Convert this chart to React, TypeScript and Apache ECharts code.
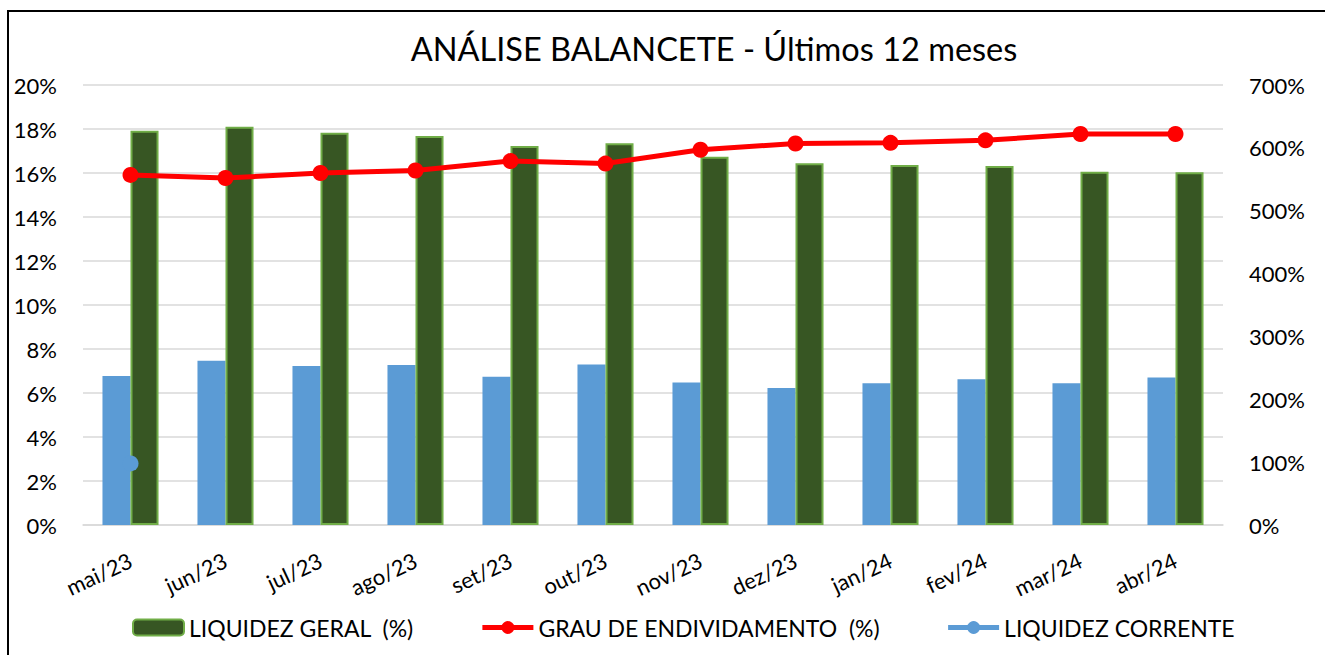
import React, { useEffect, useRef } from "react";
import * as echarts from "echarts";

const categories = ["mai/23", "jun/23", "jul/23", "ago/23", "set/23", "out/23", "nov/23", "dez/23", "jan/24", "fev/24", "mar/24", "abr/24"];
// left axis (%)
const liquidezBarras = [6.77, 7.47, 7.23, 7.27, 6.74, 7.30, 6.48, 6.23, 6.44, 6.62, 6.44, 6.70];
const liquidezGeral = [17.92, 18.1, 17.83, 17.68, 17.23, 17.35, 16.74, 16.44, 16.36, 16.32, 16.06, 16.03];
// right axis (%)
const grauEndividamento = [557, 552, 560, 564, 579, 575, 597, 607, 608, 612, 622, 622];
const liquidezCorrente = [98, null, null, null, null, null, null, null, null, null, null, null];

const FONT = "Lato";

export default function App() {
  const ref = useRef<HTMLDivElement>(null);
  useEffect(() => {
    if (!ref.current) return;
    const chart = echarts.init(ref.current, undefined, { renderer: "svg" });
    chart.setOption({
      animation: false,
      backgroundColor: "#ffffff",
      textStyle: { fontFamily: FONT },
      title: {
        text: "ANÁLISE BALANCETE - Últimos 12 meses",
        left: 709,
        top: 27,
        textAlign: "center",
        textStyle: { fontFamily: FONT, fontSize: 32.5, fontWeight: "normal", color: "#000" },
      },
      graphic: [
        {
          type: "rect",
          shape: { x: 8, y: 11, width: 1400, height: 700 },
          style: { fill: "none", stroke: "#000", lineWidth: 2 },
          silent: true,
        },
      ],
      legend: {
        left: 132,
        top: 616,
        padding: 0,
        itemWidth: 51,
        itemHeight: 16,
        itemGap: 66,
        formatter: (name: string) => name.replace("  ", " \u00a0"),
        textStyle: { fontFamily: FONT, fontSize: 23, color: "#000" },
        data: [
          { name: "LIQUIDEZ GERAL  (%)" },
          { name: "GRAU DE ENDIVIDAMENTO  (%)", lineStyle: { width: 5 } },
          { name: "LIQUIDEZ CORRENTE", lineStyle: { width: 5 } },
        ],
      },
      grid: { left: 83, right: 102, top: 85, bottom: 130, containLabel: false },
      xAxis: {
        type: "category",
        data: categories,
        axisLine: { lineStyle: { color: "#D9D9D9", width: 1.5 } },
        axisTick: { show: false },
        axisLabel: { rotate: 25, margin: 34, fontFamily: FONT, fontSize: 22, color: "#000", interval: 0 },
      },
      yAxis: [
        {
          type: "value",
          min: 0,
          max: 20,
          interval: 2,
          axisLine: { show: false },
          axisTick: { show: false },
          splitLine: { lineStyle: { color: "#D9D9D9", width: 1.5 } },
          axisLabel: { formatter: "{value}%", margin: 26, fontFamily: FONT, fontSize: 22, color: "#000" },
        },
        {
          type: "value",
          min: 0,
          max: 700,
          interval: 100,
          axisLine: { show: false },
          axisTick: { show: false },
          splitLine: { show: false },
          axisLabel: { formatter: "{value}%", margin: 26, fontFamily: FONT, fontSize: 22, color: "#000" },
        },
      ],
      series: [
        {
          name: "liquidezBarras",
          type: "bar",
          data: liquidezBarras,
          yAxisIndex: 0,
          barGap: "0%",
          barCategoryGap: "41%",
          itemStyle: { color: "#5B9BD5" },
        },
        {
          name: "LIQUIDEZ GERAL  (%)",
          type: "bar",
          data: liquidezGeral,
          yAxisIndex: 0,
          barGap: "0%",
          barCategoryGap: "41%",
          itemStyle: { color: "#375623", borderColor: "#70AD47", borderWidth: 2 },
        },
        {
          name: "GRAU DE ENDIVIDAMENTO  (%)",
          type: "line",
          data: grauEndividamento,
          yAxisIndex: 1,
          symbol: "circle",
          symbolSize: 16,
          lineStyle: { color: "#FF0000", width: 5 },
          itemStyle: { color: "#FF0000" },
        },
        {
          name: "LIQUIDEZ CORRENTE",
          type: "line",
          data: liquidezCorrente,
          yAxisIndex: 1,
          symbol: "circle",
          symbolSize: 16,
          lineStyle: { color: "#5B9BD5", width: 5 },
          itemStyle: { color: "#5B9BD5" },
        },
      ],
    });
    return () => chart.dispose();
  }, []);
  return (
    <div
      ref={ref}
      style={{ position: "fixed", left: 0, top: 0, width: 1325, height: 655 }}
    />
  );
}
